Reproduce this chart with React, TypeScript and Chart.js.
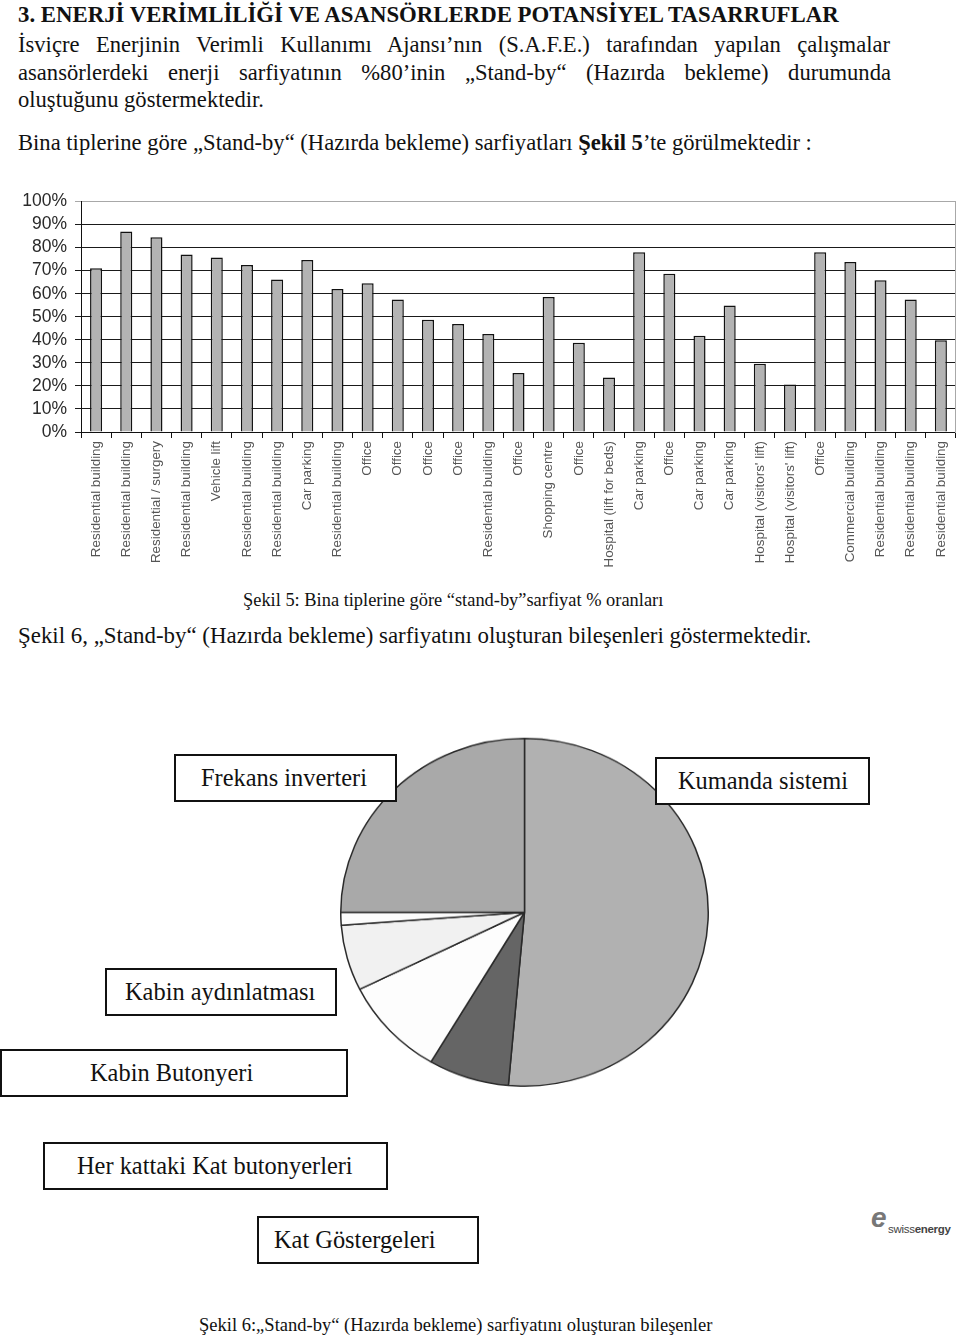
import React, { useEffect, useRef } from "react";
import { Chart, registerables } from "chart.js";

Chart.register(...registerables);

const buildingTypes = [
  "Residential building",
  "Residential building",
  "Residential / surgery",
  "Residential building",
  "Vehicle lift",
  "Residential building",
  "Residential building",
  "Car parking",
  "Residential building",
  "Office",
  "Office",
  "Office",
  "Office",
  "Residential building",
  "Office",
  "Shopping centre",
  "Office",
  "Hospital (lift for beds)",
  "Car parking",
  "Office",
  "Car parking",
  "Car parking",
  "Hospital (visitors' lift)",
  "Hospital (visitors' lift)",
  "Office",
  "Commercial building",
  "Residential building",
  "Residential building",
  "Residential building",
];

const standbyShare = [
  71, 87, 84.5, 77, 75.7, 72.5, 66.2, 74.6, 62, 64.5, 57.5, 48.7, 46.9, 42.5,
  25.6, 58.6, 38.7, 23.6, 78, 68.7, 41.8, 54.9, 29.6, 20.6, 78, 73.8, 65.8,
  57.5, 39.8,
];

const yTickStep = 10;
const yMax = 100;

const pieLabels = [
  "Kumanda sistemi",
  "Kat Göstergeleri",
  "Her kattaki Kat butonyerleri",
  "Kabin Butonyeri",
  "Kabin aydınlatması",
  "Frekans inverteri",
];
const pieValues = [51.4, 7.1, 9.2, 6.1, 1.2, 25.0];
const pieColors = ["#b1b1b1", "#656565", "#fdfdfd", "#f1f1f1", "#fbfbfb", "#a9a9a9"];

const SERIF = "'Liberation Serif', 'Times New Roman', serif";
const SANS = "'Liberation Sans', Arial, sans-serif";

function Line(props: {
  left: number;
  baseline: number;
  size: number;
  width?: number;
  justify?: boolean;
  bold?: boolean;
  scaleX?: number;
  children: React.ReactNode;
}) {
  const { left, baseline, size, width, justify, bold, scaleX, children } = props;
  return (
    <div
      style={{
        position: "absolute",
        left,
        top: baseline - 0.8375 * size,
        width,
        fontFamily: SERIF,
        fontSize: size,
        lineHeight: `${size}px`,
        fontWeight: bold ? "bold" : "normal",
        whiteSpace: "nowrap",
        textAlign: justify ? "justify" : "left",
        textAlignLast: justify ? "justify" : undefined,
        color: "#111",
        transform: scaleX ? `scaleX(${scaleX})` : undefined,
        transformOrigin: "left top",
      } as React.CSSProperties}
    >
      {children}
    </div>
  );
}

function Box(props: { left: number; top: number; width: number; height: number; textLeft: number; children: React.ReactNode }) {
  const { left, top, width, height, textLeft, children } = props;
  return (
    <div
      style={{
        position: "absolute",
        left,
        top,
        width,
        height,
        boxSizing: "border-box",
        border: "2px solid #111",
        background: "#fff",
        zIndex: 2,
        fontFamily: SERIF,
        fontSize: 24.4,
        color: "#111",
      }}
    >
      <div style={{ position: "absolute", left: textLeft - 2, top: height / 2 - 16, lineHeight: "28px", whiteSpace: "nowrap" }}>
        {children}
      </div>
    </div>
  );
}

function BarChart() {
  const ref = useRef<HTMLCanvasElement | null>(null);
  useEffect(() => {
    if (!ref.current) return;
    const chart = new Chart(ref.current, {
      type: "bar",
      data: {
        labels: buildingTypes,
        datasets: [
          {
            data: standbyShare,
            backgroundColor: "#b3b3b3",
            borderColor: "#111",
            borderWidth: 1.5,
            barPercentage: 0.4,
            categoryPercentage: 1,
          },
        ],
      },
      options: {
        responsive: false,
        animation: false,
        maintainAspectRatio: false,
        layout: { padding: { top: 1, right: 3, left: 0, bottom: 0 } },
        plugins: { legend: { display: false }, tooltip: { enabled: false } },
        scales: {
          x: {
            grid: { offset: true, drawOnChartArea: false, drawTicks: true, tickLength: 6, color: "#111", lineWidth: 1 },
            border: { color: "#111", width: 1 },
            ticks: {
              autoSkip: false,
              maxRotation: 90,
              minRotation: 90,
              padding: 3,
              color: "#555",
              font: { family: SANS, size: 13.4 },
            },
            afterFit(s: any) {
              s.height = 138;
            },
          },
          y: {
            min: 0,
            max: yMax,
            ticks: {
              autoSkip: false,
              stepSize: yTickStep,
              callback: (v: any) => `${v}%`,
              color: "#2a2a2a",
              padding: 8,
              font: { family: SANS, size: 17.5 },
            },
            grid: {
              color: (ctx: any) => (ctx.tick && ctx.tick.value === yMax ? "#a8a8a8" : "#1a1a1a"),
              lineWidth: 1,
              tickLength: 6,
              drawTicks: true,
            },
            border: { color: "#111", width: 1 },
            afterFit(s: any) {
              s.width = 81;
            },
          },
          y2: {
            position: "right",
            display: true,
            grid: { display: false },
            ticks: { display: false },
            border: { color: "#a8a8a8", width: 1 },
            afterFit(s: any) {
              s.width = 0;
            },
          },
        },
      },
    } as any);
    return () => chart.destroy();
  }, []);
  return <canvas ref={ref} width={960} height={387} style={{ position: "absolute", left: 0, top: 183 }} />;
}

function PieChart() {
  const ref = useRef<HTMLCanvasElement | null>(null);
  useEffect(() => {
    if (!ref.current) return;
    const chart = new Chart(ref.current, {
      type: "pie",
      data: {
        labels: pieLabels,
        datasets: [
          {
            data: pieValues,
            backgroundColor: pieColors,
            borderColor: "#2a2a2a",
            borderWidth: 1.5,
          },
        ],
      },
      options: {
        responsive: false,
        animation: false,
        maintainAspectRatio: false,
        layout: { padding: 5 },
        plugins: { legend: { display: false }, tooltip: { enabled: false } },
      },
    } as any);
    return () => chart.destroy();
  }, []);
  return (
    <div style={{ position: "absolute", left: 335, top: 733, width: 379, height: 379, transform: "scaleY(0.946)", transformOrigin: "left top", zIndex: 1 }}>
      <canvas ref={ref} width={379} height={379} />
    </div>
  );
}

export default function App() {
  return (
    <div style={{ position: "absolute", left: 0, top: 0, width: 960, height: 1339, background: "#fff", overflow: "hidden" }}>
      <Line left={18} baseline={23} size={22.8} bold>
        3. ENERJİ VERİMLİLİĞİ VE ASANSÖRLERDE POTANSİYEL TASARRUFLAR
      </Line>
      <Line left={18} baseline={53} size={22.6} width={872} justify>
        İsviçre Enerjinin Verimli Kullanımı Ajansı’nın (S.A.F.E.) tarafından yapılan çalışmalar
      </Line>
      <Line left={18} baseline={81} size={22.6} width={873} justify>
        asansörlerdeki enerji sarfiyatının %80’inin „Stand-by“ (Hazırda bekleme) durumunda
      </Line>
      <Line left={18} baseline={108} size={22.6}>
        oluştuğunu göstermektedir.
      </Line>
      <Line left={18} baseline={151} size={22.6}>
        Bina tiplerine göre „Stand-by“ (Hazırda bekleme) sarfiyatları <b>Şekil 5</b>’te görülmektedir :
      </Line>

      <BarChart />

      <Line left={243} baseline={606} size={18.4}>
        Şekil 5: Bina tiplerine göre “stand-by”sarfiyat % oranları
      </Line>
      <Line left={18} baseline={644} size={22.9}>
        Şekil 6,  „Stand-by“ (Hazırda bekleme) sarfiyatını oluşturan bileşenleri göstermektedir.
      </Line>

      <PieChart />

      <Box left={174} top={754} width={223} height={48} textLeft={27}>Frekans inverteri</Box>
      <Box left={655} top={757} width={215} height={48} textLeft={23}>Kumanda sistemi</Box>
      <Box left={105} top={968} width={232} height={48} textLeft={20}>Kabin aydınlatması</Box>
      <Box left={0} top={1049} width={348} height={48} textLeft={90}>Kabin Butonyeri</Box>
      <Box left={43} top={1142} width={345} height={48} textLeft={34}>Her kattaki Kat butonyerleri</Box>
      <Box left={257} top={1216} width={222} height={48} textLeft={17}>Kat Göstergeleri</Box>

      <div style={{ position: "absolute", left: 870, top: 1204, width: 88, height: 36, zIndex: 2 }}>
        <div
          style={{
            position: "absolute",
            left: 1,
            top: 0,
            fontFamily: SANS,
            fontStyle: "italic",
            fontWeight: "bold",
            fontSize: 28,
            lineHeight: "28px",
            color: "#777",
          }}
        >
          e
        </div>
        <div style={{ position: "absolute", left: 18, top: 18, fontFamily: SANS, fontSize: 11.5, lineHeight: "14px", color: "#444", whiteSpace: "nowrap", letterSpacing: -0.3 }}>
          swiss<b>energy</b>
        </div>
      </div>

      <Line left={199} baseline={1331} size={19.5} scaleX={0.95}>
        Şekil 6:„Stand-by“ (Hazırda bekleme) sarfiyatını oluşturan bileşenler
      </Line>
    </div>
  );
}
